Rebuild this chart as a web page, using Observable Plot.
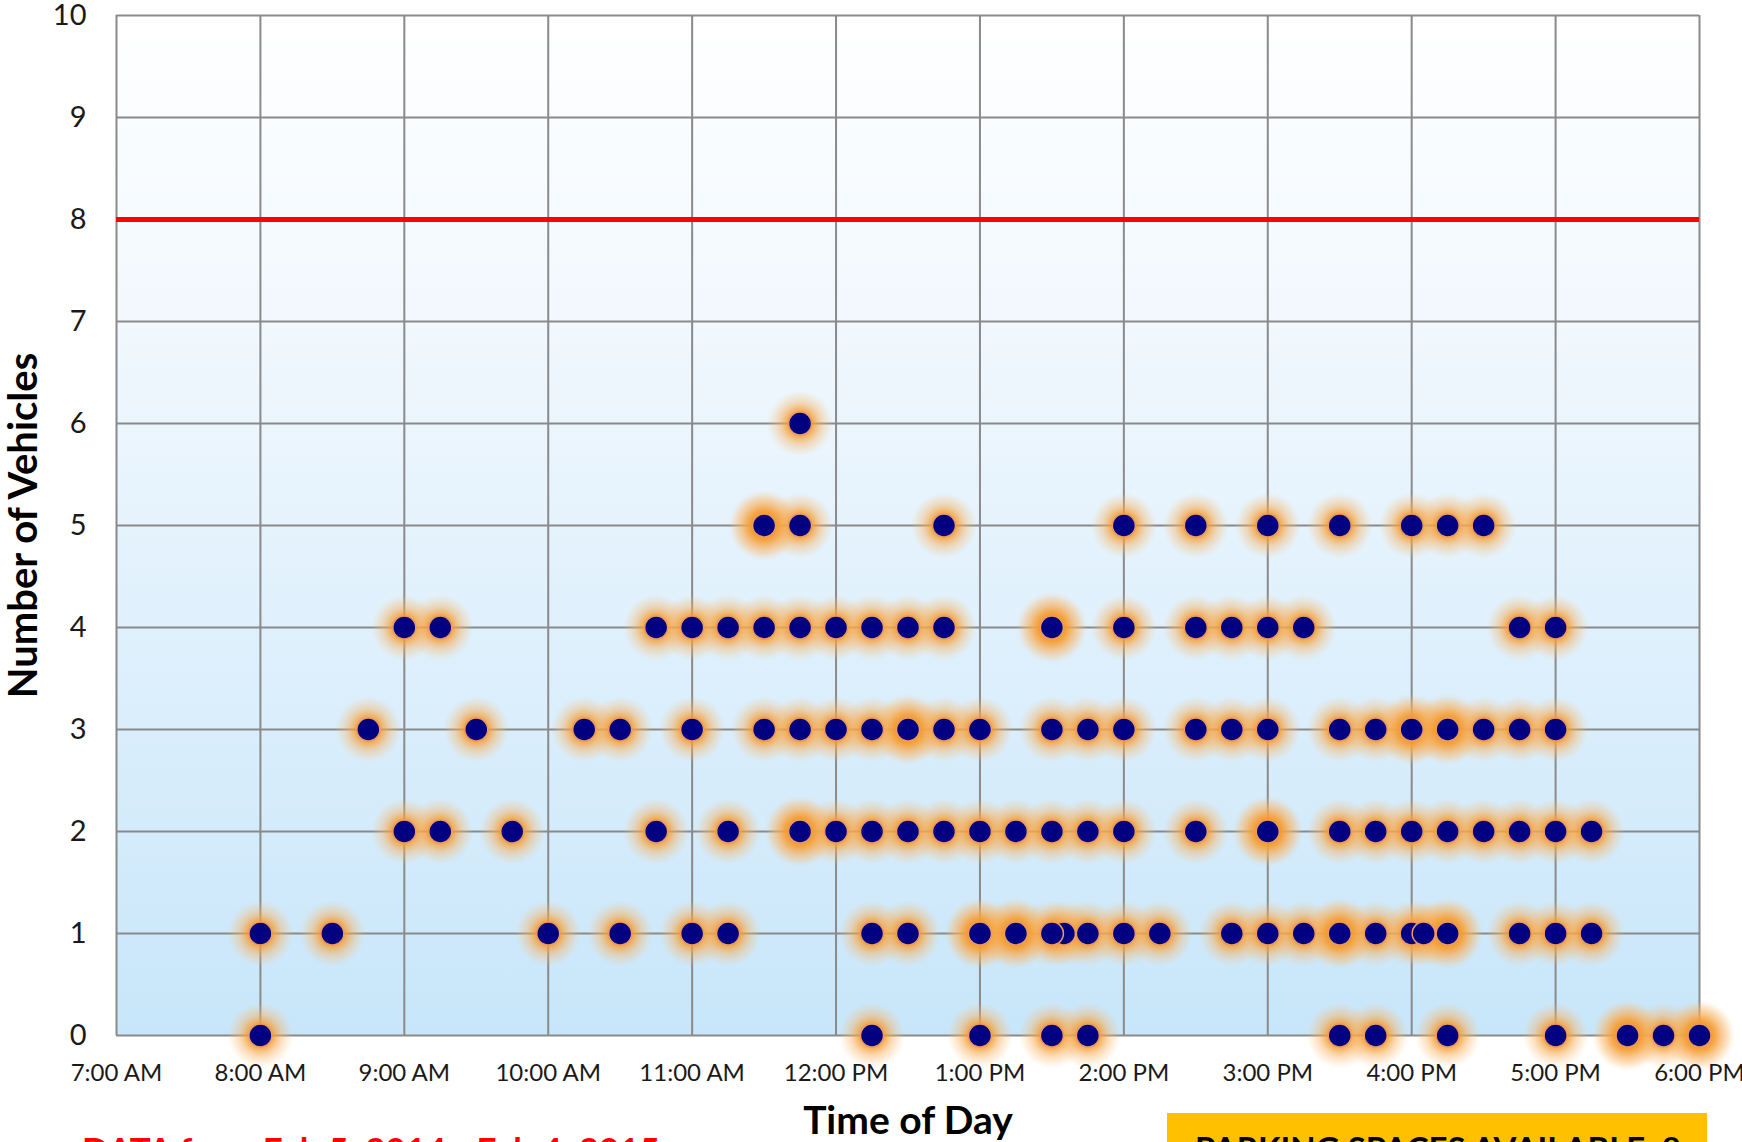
<!DOCTYPE html>
<html><head><meta charset="utf-8">
<script src="https://cdn.jsdelivr.net/npm/d3@7"></script>
<script src="https://cdn.jsdelivr.net/npm/@observablehq/plot@0.6"></script>
<style>
html,body{margin:0;padding:0;background:#fff;overflow:hidden;width:1742px;height:1142px;}
#wrap{position:relative;width:1742px;height:1142px;font-family:Lato,sans-serif;}
#source{position:absolute;left:82px;top:1132px;color:#ff0000;font-size:35px;font-weight:bold;line-height:1;white-space:nowrap;}
#spaces{position:absolute;left:1167px;top:1113px;width:540px;height:60px;background:#ffc000;}
#spaces span{position:absolute;left:28px;top:19px;font-size:33px;font-weight:bold;line-height:1;color:#000;white-space:nowrap;}
#defs{position:absolute;width:0;height:0;}
</style></head>
<body><div id="wrap">
<svg id="defs"><defs>
<linearGradient id="bg" x1="0" y1="0" x2="0" y2="1">
<stop offset="0" stop-color="#ffffff"/>
<stop offset="0.3" stop-color="#f1f8fe"/>
<stop offset="1" stop-color="#c8e6fa"/>
</linearGradient>
<radialGradient id="glow" cx="0.5" cy="0.5" r="0.5">
<stop offset="0.33" stop-color="#f39a2a" stop-opacity="0.9"/>
<stop offset="0.62" stop-color="#f7ae5a" stop-opacity="0.45"/>
<stop offset="1" stop-color="#fbc27a" stop-opacity="0"/>
</radialGradient>
</defs></svg>
<div id="chart"></div>
<div id="source">DATA from Feb 5, 2014 - Feb 4, 2015</div>
<div id="spaces"><span>PARKING SPACES AVAILABLE: 8</span></div>
</div>
<script>
// Observed vehicle counts by time of day (one array per count level)
const times6 = ["11:45"];
const times5 = ["11:30","11:45","12:45","14:00","14:30","15:00","15:30","16:00","16:15","16:30"];
const times4 = ["9:00","9:15","10:45","11:00","11:15","11:30","11:45","12:00","12:15","12:30","12:45","13:30","14:00","14:30","14:45","15:00","15:15","16:45","17:00"];
const times3 = ["8:45","9:30","10:15","10:30","11:00","11:30","11:45","12:00","12:15","12:30","12:45","13:00","13:30","13:45","14:00","14:30","14:45","15:00","15:30","15:45","16:00","16:15","16:30","16:45","17:00"];
const times2 = ["9:00","9:15","9:45","10:45","11:15","11:45","12:00","12:15","12:30","12:45","13:00","13:15","13:30","13:45","14:00","14:30","15:00","15:30","15:45","16:00","16:15","16:30","16:45","17:00","17:15"];
const times1 = ["8:00","8:30","10:00","10:30","11:00","11:15","12:15","12:30","13:00","13:15","13:35","13:30","13:45","14:00","14:15","14:45","15:00","15:15","15:30","15:45","16:00","16:05","16:15","16:45","17:00","17:15"];
const times0 = ["8:00","12:15","13:00","13:30","13:45","15:30","15:45","16:15","17:00","17:30","17:45","18:00"];

// Points with a heavier glow (observed more often)
const busyCounts = [0, 0, 1, 1, 1, 1, 2, 2, 3, 3, 3, 4, 5];
const busyTimes  = ["17:30","18:00","13:00","13:15","15:30","16:15","11:45","15:00","12:30","16:00","16:15","13:30","11:30"];

const hourTicks = [7,8,9,10,11,12,13,14,15,16,17,18];
const hourLabels = ["7:00 AM","8:00 AM","9:00 AM","10:00 AM","11:00 AM","12:00 PM","1:00 PM","2:00 PM","3:00 PM","4:00 PM","5:00 PM","6:00 PM"];
const countTicks = [0,1,2,3,4,5,6,7,8,9,10];
const capacity = [8];
const xTitle = "Time of Day";
const yTitle = "Number of Vehicles";

const toHours = s => { const [h, m] = s.split(":").map(Number); return h + m / 60; };
const levels = [[0,times0],[1,times1],[2,times2],[3,times3],[4,times4],[5,times5],[6,times6]];
const points = levels.flatMap(([v, ts]) => ts.map(t => ({time: toHours(t), count: v})));
const busy = busyTimes.map((t, i) => ({time: toHours(t), count: busyCounts[i]}));

const chart = Plot.plot({
  width: 1742, height: 1142,
  marginLeft: 116, marginRight: 43, marginTop: 15, marginBottom: 107,
  style: {fontFamily: "Lato, sans-serif", color: "#1a1a1a", background: "transparent", overflow: "visible"},
  x: {domain: [7, 18]},
  y: {domain: [0, 10]},
  marks: [
    Plot.frame({fill: "url(#bg)", stroke: null}),
    Plot.gridX(hourTicks, {stroke: "#8a8a8a", strokeOpacity: 1, strokeWidth: 2}),
    Plot.gridY(countTicks, {stroke: "#8a8a8a", strokeOpacity: 1, strokeWidth: 2}),
    Plot.ruleY(capacity, {stroke: "#ff0000", strokeWidth: 5}),
    Plot.dot(points, {x: "time", y: "count", r: 33, fill: "url(#glow)", stroke: null}),
    Plot.dot(busy, {x: "time", y: "count", r: 36, fill: "url(#glow)", stroke: null}),
    Plot.dot(points, {x: "time", y: "count", r: 11.5, fill: "#000080", stroke: "#ee9a60", strokeWidth: 1.5}),
    Plot.axisX(hourTicks, {tickSize: 0, tickPadding: 28, fontSize: 24, tickFormat: (d, i) => hourLabels[i], label: null}),
    Plot.axisY(countTicks, {tickSize: 0, tickPadding: 30, fontSize: 29, tickFormat: d3.format("d"), label: null}),
    Plot.text([yTitle], {text: d => d, frameAnchor: "left", textAnchor: "middle", dx: -92, dy: 0, rotate: -90, fontSize: 40, fontWeight: "bold", fill: "#000"}),
    Plot.text([xTitle], {text: d => d, frameAnchor: "bottom", textAnchor: "middle", dy: 98, fontSize: 39, fontWeight: "bold", fill: "#000"})
  ]
});
document.getElementById("chart").append(chart);
</script>
</body></html>
